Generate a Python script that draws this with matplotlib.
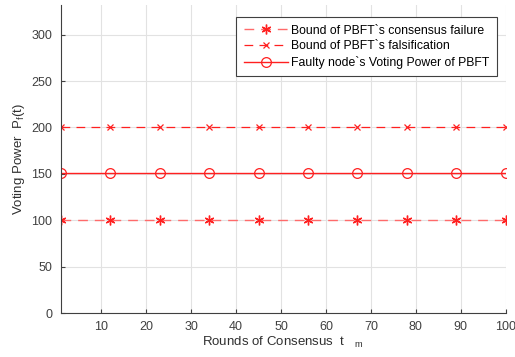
import numpy as np
import matplotlib
matplotlib.use("Agg")
import matplotlib.pyplot as plt

plt.rcParams['font.family'] = ['Liberation Sans', 'DejaVu Sans']

# consensus rounds and bounds of voting power
rounds = np.arange(1, 101)
marker_rounds = [1, 12, 23, 34, 45, 56, 67, 78, 89, 100]
consensus_failure = 100
falsification = 201
faulty_power = 151

labels = ["Bound of PBFT`s consensus failure",
          "Bound of PBFT`s falsification",
          "Faulty node`s Voting Power of PBFT"]

fig = plt.figure(figsize=(5.15, 3.57), dpi=100)
ax = fig.add_axes([0.118, 0.123, 0.864, 0.863])

red = '#ff2020'
mk = [r - 1 for r in marker_rounds]

ax.plot(rounds, np.full(len(rounds), consensus_failure), color='#ff6a6a', ls=(0, (7, 5)),
        lw=1.0, marker=(6, 2, 0), markersize=7, markevery=mk, mec=red, mew=1.0,
        label=labels[0])
ax.plot(rounds, np.full(len(rounds), falsification), color=red, ls=(0, (7, 5)),
        lw=0.9, marker='x', markersize=5, markevery=mk, mew=0.9, label=labels[1])
ax.plot(rounds, np.full(len(rounds), faulty_power), color=red, ls='-',
        lw=1.0, marker='o', markersize=7, markevery=mk, mfc='none', mew=0.9, label=labels[2])

ax.set_xlim(1, 100)
ax.set_ylim(0, 332)
ax.set_xticks(np.arange(10, 101, 10))
ax.set_yticks(np.arange(0, 301, 50))
ax.grid(True, color='#e2e2e2', lw=0.8)
ax.set_axisbelow(True)
ax.spines['top'].set_visible(False)
ax.spines['right'].set_visible(False)
for s in ('left', 'bottom'):
    ax.spines[s].set_color('#404040')
    ax.spines[s].set_linewidth(0.8)
ax.tick_params(labelsize=9, colors='#404040', length=3, direction='in', pad=6)

ax.set_xlabel("Rounds of Consensus  t   $_{\\mathregular{m}}$", fontsize=9.5, color='#303030', labelpad=1)
ax.set_ylabel("Voting Power  P$_{\\mathregular{f}}$(t)", fontsize=9.5, color='#303030', labelpad=3)

leg = ax.legend(loc='upper right', fontsize=8.8, frameon=True, fancybox=False,
                edgecolor='#404040', framealpha=1, bbox_to_anchor=(0.98, 0.96),
                borderaxespad=0, handlelength=3.6, handletextpad=0.3,
                labelspacing=0.3, borderpad=0.6)
leg.get_frame().set_linewidth(0.8)

fig.savefig("out.png", dpi=100)
